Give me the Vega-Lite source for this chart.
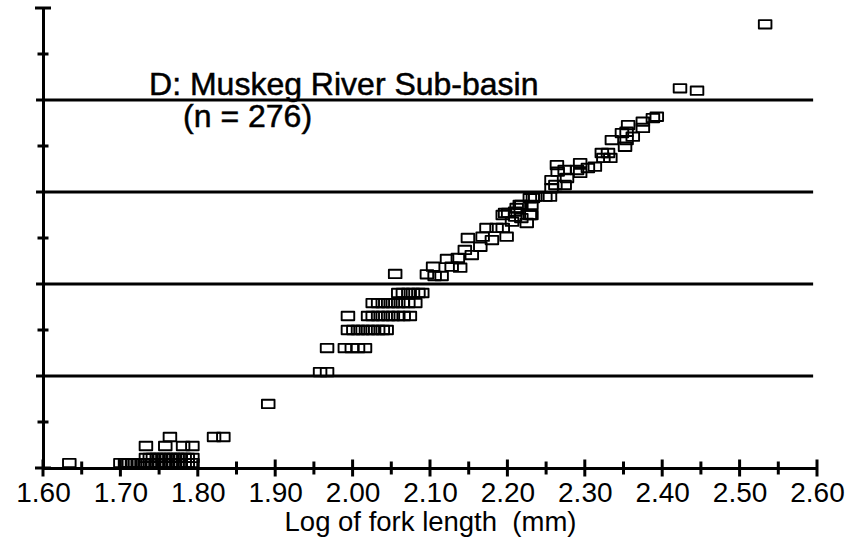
{
  "$schema": "https://vega.github.io/schema/vega-lite/v6.json",
  "width": 774,
  "height": 460,
  "autosize": "none",
  "padding": {"left": 43, "top": 8, "right": 47, "bottom": 82},
  "background": "white",
  "config": {
    "view": {"stroke": null},
    "font": "Liberation Sans",
    "axis": {"domainColor": "black", "domainWidth": 3, "labelColor": "black", "titleColor": "black"}
  },
  "datasets": {
    "fish": [
      {"logFL": 1.634, "logWt": 0.054},
      {"logFL": 1.700, "logWt": 0.054}, {"logFL": 1.706, "logWt": 0.054}, {"logFL": 1.711, "logWt": 0.054},
      {"logFL": 1.715, "logWt": 0.054}, {"logFL": 1.719, "logWt": 0.054}, {"logFL": 1.724, "logWt": 0.054},
      {"logFL": 1.729, "logWt": 0.054}, {"logFL": 1.733, "logWt": 0.054}, {"logFL": 1.738, "logWt": 0.054},
      {"logFL": 1.742, "logWt": 0.054}, {"logFL": 1.747, "logWt": 0.054}, {"logFL": 1.751, "logWt": 0.054},
      {"logFL": 1.756, "logWt": 0.054}, {"logFL": 1.760, "logWt": 0.054}, {"logFL": 1.765, "logWt": 0.054},
      {"logFL": 1.769, "logWt": 0.054}, {"logFL": 1.774, "logWt": 0.054}, {"logFL": 1.778, "logWt": 0.054},
      {"logFL": 1.783, "logWt": 0.054}, {"logFL": 1.787, "logWt": 0.054}, {"logFL": 1.793, "logWt": 0.054},
      {"logFL": 1.733, "logWt": 0.109}, {"logFL": 1.738, "logWt": 0.109}, {"logFL": 1.742, "logWt": 0.109},
      {"logFL": 1.747, "logWt": 0.109}, {"logFL": 1.751, "logWt": 0.109}, {"logFL": 1.756, "logWt": 0.109},
      {"logFL": 1.760, "logWt": 0.109}, {"logFL": 1.765, "logWt": 0.109}, {"logFL": 1.769, "logWt": 0.109},
      {"logFL": 1.774, "logWt": 0.109}, {"logFL": 1.778, "logWt": 0.109}, {"logFL": 1.783, "logWt": 0.109},
      {"logFL": 1.787, "logWt": 0.109}, {"logFL": 1.793, "logWt": 0.109},
      {"logFL": 1.733, "logWt": 0.239}, {"logFL": 1.758, "logWt": 0.239}, {"logFL": 1.781, "logWt": 0.239},
      {"logFL": 1.793, "logWt": 0.239},
      {"logFL": 1.764, "logWt": 0.337}, {"logFL": 1.821, "logWt": 0.337}, {"logFL": 1.833, "logWt": 0.337},
      {"logFL": 1.891, "logWt": 0.696},
      {"logFL": 1.958, "logWt": 1.043}, {"logFL": 1.967, "logWt": 1.043},
      {"logFL": 1.967, "logWt": 1.304}, {"logFL": 1.990, "logWt": 1.304}, {"logFL": 1.999, "logWt": 1.304},
      {"logFL": 2.007, "logWt": 1.304}, {"logFL": 2.016, "logWt": 1.304},
      {"logFL": 1.994, "logWt": 1.5}, {"logFL": 2.001, "logWt": 1.5}, {"logFL": 2.007, "logWt": 1.5},
      {"logFL": 2.013, "logWt": 1.5}, {"logFL": 2.020, "logWt": 1.5}, {"logFL": 2.026, "logWt": 1.5},
      {"logFL": 2.033, "logWt": 1.5}, {"logFL": 2.039, "logWt": 1.5}, {"logFL": 2.044, "logWt": 1.5},
      {"logFL": 1.994, "logWt": 1.652}, {"logFL": 2.020, "logWt": 1.652}, {"logFL": 2.026, "logWt": 1.652},
      {"logFL": 2.033, "logWt": 1.652}, {"logFL": 2.039, "logWt": 1.652}, {"logFL": 2.046, "logWt": 1.652},
      {"logFL": 2.052, "logWt": 1.652}, {"logFL": 2.059, "logWt": 1.652}, {"logFL": 2.066, "logWt": 1.652},
      {"logFL": 2.074, "logWt": 1.652},
      {"logFL": 2.026, "logWt": 1.793}, {"logFL": 2.033, "logWt": 1.793}, {"logFL": 2.039, "logWt": 1.793},
      {"logFL": 2.046, "logWt": 1.793}, {"logFL": 2.052, "logWt": 1.793}, {"logFL": 2.059, "logWt": 1.793},
      {"logFL": 2.065, "logWt": 1.793}, {"logFL": 2.072, "logWt": 1.793}, {"logFL": 2.081, "logWt": 1.793},
      {"logFL": 2.059, "logWt": 1.902}, {"logFL": 2.065, "logWt": 1.902}, {"logFL": 2.072, "logWt": 1.902},
      {"logFL": 2.078, "logWt": 1.902}, {"logFL": 2.085, "logWt": 1.902}, {"logFL": 2.090, "logWt": 1.902},
      {"logFL": 2.055, "logWt": 2.109},
      {"logFL": 2.096, "logWt": 2.105}, {"logFL": 2.106, "logWt": 2.087}, {"logFL": 2.115, "logWt": 2.087},
      {"logFL": 2.104, "logWt": 2.188}, {"logFL": 2.122, "logWt": 2.272}, {"logFL": 2.128, "logWt": 2.188},
      {"logFL": 2.139, "logWt": 2.177}, {"logFL": 2.136, "logWt": 2.283}, {"logFL": 2.145, "logWt": 2.370},
      {"logFL": 2.149, "logWt": 2.500}, {"logFL": 2.154, "logWt": 2.315}, {"logFL": 2.165, "logWt": 2.405},
      {"logFL": 2.168, "logWt": 2.514}, {"logFL": 2.173, "logWt": 2.609}, {"logFL": 2.180, "logWt": 2.478},
      {"logFL": 2.186, "logWt": 2.609}, {"logFL": 2.194, "logWt": 2.609}, {"logFL": 2.199, "logWt": 2.514},
      {"logFL": 2.197, "logWt": 2.772}, {"logFL": 2.206, "logWt": 2.677}, {"logFL": 2.210, "logWt": 2.786},
      {"logFL": 2.216, "logWt": 2.859}, {"logFL": 2.229, "logWt": 2.932}, {"logFL": 2.231, "logWt": 2.750},
      {"logFL": 2.225, "logWt": 2.663}, {"logFL": 2.218, "logWt": 2.717}, {"logFL": 2.236, "logWt": 2.949},
      {"logFL": 2.393, "logWt": 3.818}, {"logFL": 2.388, "logWt": 3.804}, {"logFL": 2.375, "logWt": 3.764},
      {"logFL": 2.375, "logWt": 3.696}, {"logFL": 2.356, "logWt": 3.728}, {"logFL": 2.354, "logWt": 3.655},
      {"logFL": 2.348, "logWt": 3.641}, {"logFL": 2.362, "logWt": 3.601}, {"logFL": 2.335, "logWt": 3.565},
      {"logFL": 2.352, "logWt": 3.492}, {"logFL": 2.354, "logWt": 3.565}, {"logFL": 2.322, "logWt": 3.424},
      {"logFL": 2.330, "logWt": 3.424}, {"logFL": 2.333, "logWt": 3.370}, {"logFL": 2.324, "logWt": 3.370},
      {"logFL": 2.313, "logWt": 3.275}, {"logFL": 2.304, "logWt": 3.261}, {"logFL": 2.294, "logWt": 3.315},
      {"logFL": 2.290, "logWt": 3.239}, {"logFL": 2.294, "logWt": 3.207}, {"logFL": 2.264, "logWt": 3.293},
      {"logFL": 2.265, "logWt": 3.221}, {"logFL": 2.274, "logWt": 3.239}, {"logFL": 2.277, "logWt": 3.152},
      {"logFL": 2.257, "logWt": 3.130}, {"logFL": 2.262, "logWt": 3.076}, {"logFL": 2.274, "logWt": 3.076},
      {"logFL": 2.257, "logWt": 3.043}, {"logFL": 2.255, "logWt": 2.949}, {"logFL": 2.249, "logWt": 2.949},
      {"logFL": 2.233, "logWt": 2.935}, {"logFL": 2.231, "logWt": 2.859}, {"logFL": 2.218, "logWt": 2.859},
      {"logFL": 2.212, "logWt": 2.826}, {"logFL": 2.201, "logWt": 2.772}, {"logFL": 2.194, "logWt": 2.750},
      {"logFL": 2.229, "logWt": 2.750}, {"logFL": 2.210, "logWt": 2.732},
      {"logFL": 2.423, "logWt": 4.127}, {"logFL": 2.445, "logWt": 4.101}, {"logFL": 2.533, "logWt": 4.823}
    ],
    "gridLevels": [{"v": 1}, {"v": 2}, {"v": 3}, {"v": 4}],
    "yMinorTicks": [{"v": 0.5}, {"v": 1.5}, {"v": 2.5}, {"v": 3.5}, {"v": 4.5}],
    "yEndTicks": [{"v": 0}, {"v": 5}],
    "xMajorTicks": [
      {"v": 1.6}, {"v": 1.7}, {"v": 1.8}, {"v": 1.9}, {"v": 2.0}, {"v": 2.1},
      {"v": 2.2}, {"v": 2.3}, {"v": 2.4}, {"v": 2.5}, {"v": 2.6}
    ],
    "xMinorTicks": [
      {"v": 1.65}, {"v": 1.75}, {"v": 1.85}, {"v": 1.95}, {"v": 2.05},
      {"v": 2.15}, {"v": 2.25}, {"v": 2.35}, {"v": 2.45}, {"v": 2.55}
    ],
    "caption": [
      {"line": "D: Muskeg River Sub-basin", "lx": 1.737, "ly": 4.054},
      {"line": "(n = 276)", "lx": 1.781, "ly": 3.707}
    ]
  },
  "layer": [
    {
      "data": {"name": "gridLevels"},
      "mark": {"type": "rule", "color": "black", "strokeWidth": 3},
      "encoding": {
        "y": {"field": "v", "type": "quantitative"},
        "x": {"datum": 1.591, "type": "quantitative"},
        "x2": {"datum": 2.595}
      }
    },
    {
      "data": {"name": "fish"},
      "mark": {
        "type": "point",
        "shape": "M-1.2,-0.8H1.2V0.8H-1.2Z",
        "size": 110,
        "filled": false,
        "stroke": "black",
        "strokeWidth": 1.9,
        "strokeJoin": "round",
        "opacity": 1
      },
      "encoding": {
        "x": {
          "field": "logFL",
          "type": "quantitative",
          "scale": {"domain": [1.6, 2.6], "nice": false, "zero": false},
          "axis": {
            "title": "Log of fork length\u00a0 (mm)",
            "values": [1.6, 1.7, 1.8, 1.9, 2.0, 2.1, 2.2, 2.3, 2.4, 2.5, 2.6],
            "format": ".2f",
            "domainWidth": 3,
            "domainColor": "black",
            "ticks": false,
            "tickSize": 0,
            "grid": false,
            "labelFont": "Liberation Sans",
            "labelFontSize": 28,
            "labelPadding": 11,
            "labelFlush": false,
            "labelOverlap": false,
            "titleFont": "Liberation Sans",
            "titleFontSize": 27.5,
            "titleFontWeight": "normal",
            "titlePadding": 1
          }
        },
        "y": {
          "field": "logWt",
          "type": "quantitative",
          "scale": {"domain": [0, 5], "nice": false, "zero": false},
          "axis": {
            "title": null,
            "labels": false,
            "ticks": false,
            "tickSize": 0,
            "grid": false,
            "domainWidth": 3,
            "domainColor": "black"
          }
        }
      }
    },
    {
      "data": {"name": "yMinorTicks"},
      "mark": {"type": "tick", "orient": "horizontal", "color": "black", "size": 11, "thickness": 3, "opacity": 1},
      "encoding": {
        "y": {"field": "v", "type": "quantitative"},
        "x": {"datum": 1.6, "type": "quantitative"}
      }
    },
    {
      "data": {"name": "yEndTicks"},
      "mark": {"type": "tick", "orient": "horizontal", "color": "black", "size": 16, "thickness": 3, "opacity": 1},
      "encoding": {
        "y": {"field": "v", "type": "quantitative"},
        "x": {"datum": 1.6, "type": "quantitative"}
      }
    },
    {
      "data": {"name": "xMajorTicks"},
      "mark": {"type": "tick", "orient": "vertical", "color": "black", "size": 17, "thickness": 3, "opacity": 1},
      "encoding": {
        "x": {"field": "v", "type": "quantitative"},
        "y": {"datum": 0, "type": "quantitative"}
      }
    },
    {
      "data": {"name": "xMinorTicks"},
      "mark": {"type": "tick", "orient": "vertical", "color": "black", "size": 13, "thickness": 3, "opacity": 1},
      "encoding": {
        "x": {"field": "v", "type": "quantitative"},
        "y": {"datum": 0, "type": "quantitative"}
      }
    },
    {
      "data": {"name": "caption"},
      "mark": {"type": "text", "align": "left", "baseline": "alphabetic", "font": "Liberation Sans", "fontSize": 32, "color": "black", "stroke": "black", "strokeWidth": 0.5},
      "encoding": {
        "x": {"field": "lx", "type": "quantitative"},
        "y": {"field": "ly", "type": "quantitative"},
        "text": {"field": "line"}
      }
    }
  ]
}
